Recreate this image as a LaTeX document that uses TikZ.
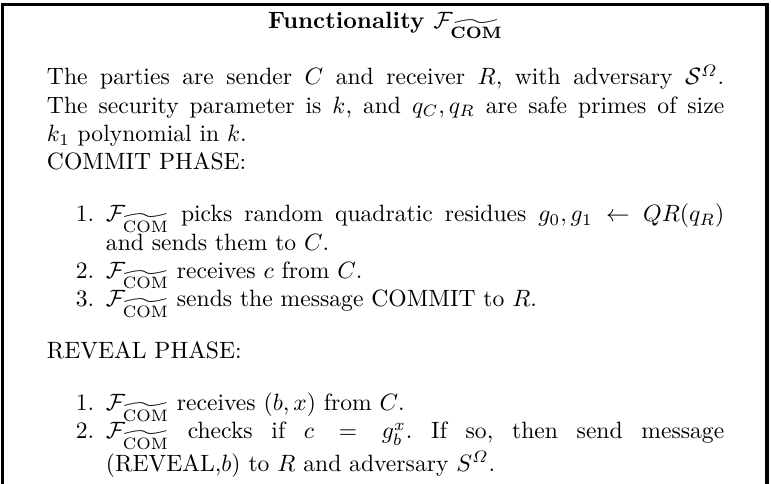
\documentclass[tikz,border=0pt]{standalone}
\usepackage{amsmath,amssymb}
\usepackage{enumitem}
\newcommand{\Fcom}{\mathcal{F}_{\widetilde{\mathrm{COM}}}}
\setlist[enumerate]{topsep=10pt,itemsep=0pt,parsep=0pt,partopsep=0pt}

\begin{document}
\begin{tikzpicture}[x=1pt,y=1pt,every node/.style={inner sep=0pt,outer sep=0pt}]
\useasboundingbox (0,0) rectangle (326.7,-204.7);
\coordinate (TL) at (1.1,-1.9); \coordinate (TR) at (325,-1.9);
\coordinate (BL) at (1.1,-210); \coordinate (BR) at (325,-210);
% frame, its bottom edge is cut off
\draw[line width=1.6pt] (BL)--(TL)--(TR)--(BR);
\node[anchor=base] (title) at (163.4,-11.9) {\textbf{Functionality $\mathcal{F}_{\widetilde{\mathbf{COM}}}$}};
\node[anchor=base west] (body) at (19.9,-36) {\begin{minipage}[t]{287pt}
\setlength{\parskip}{0pt}\setlength{\parindent}{0pt}\frenchspacing
The parties are sender $C$ and receiver $R$, with adversary $\mathcal{S}^{\varOmega}$.\linebreak
The security parameter is $k$, and $q_C, q_R$ are safe primes of size\linebreak
$k_1$ polynomial in $k$.\par
COMMIT PHASE:
\begin{enumerate}
\item $\Fcom$ picks random quadratic residues $g_0, g_1 \leftarrow QR(q_R)$\linebreak
and sends them to $C$.
\item $\Fcom$ receives $c$ from $C$.
\item $\Fcom$ sends the message COMMIT to $R$.
\end{enumerate}
REVEAL PHASE:
\begin{enumerate}
\item $\Fcom$ receives $(b,x)$ from $C$.
\item $\Fcom$ checks if $c = g_b^x$. If so, then send message\linebreak
(REVEAL,$b$) to $R$ and adversary $S^{\varOmega}$.
\end{enumerate}
\end{minipage}};
\end{tikzpicture}
\end{document}
